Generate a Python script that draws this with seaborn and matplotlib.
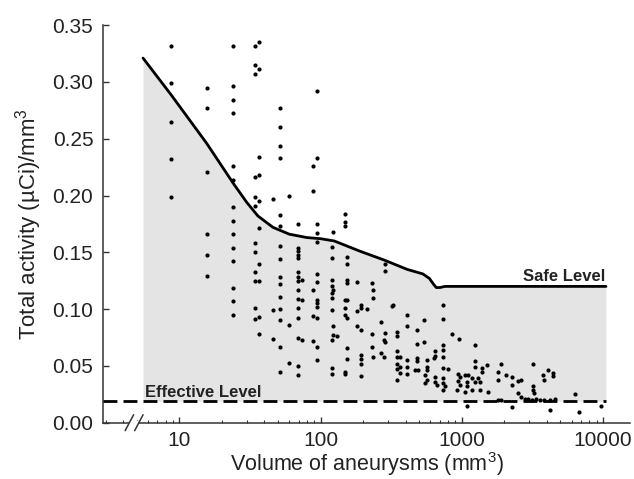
import numpy as np
import pandas as pd
import matplotlib
matplotlib.use("Agg")
import matplotlib.pyplot as plt
import seaborn as sns


# measured points, grouped by volume column (mm3) -> total activity (uCi/mm3)
col_volumes = [8.7, 15.6, 24.1, 34.3, 36.8, 46.3, 51.7, 60, 68.9, 73.5, 88, 94,
               120, 123, 130, 149, 155, 180, 192, 214, 230, 236, 270, 280, 285, 320, 328, 345, 364, 412,
               465, 478, 490, 543, 545, 568, 633, 650, 668, 740, 760, 803, 848, 920, 944, 962, 970,
               1050, 1080, 1110, 1180, 1240, 1310, 1340, 1380, 1510, 1540,
               1810, 1910, 2070, 2250, 2280, 2500, 2640, 2800, 2960, 3120, 3180, 3270, 3370, 3560,
               3740, 3850, 4060, 4180, 4410, 4560, 6320, 6760, 9700]
col_activity = [
    [0.332, 0.299, 0.265, 0.232, 0.199],
    [0.295, 0.277, 0.221, 0.166, 0.148, 0.129],
    [0.332, 0.296, 0.284, 0.273, 0.226, 0.214, 0.190, 0.178, 0.166, 0.154, 0.142, 0.119, 0.107, 0.095],
    [0.332, 0.315, 0.307, 0.216, 0.199, 0.191, 0.158, 0.150, 0.133, 0.125, 0.101, 0.091],
    [0.335, 0.311, 0.234, 0.218, 0.195, 0.171, 0.140, 0.125, 0.093, 0.078],
    [0.197, 0.099, 0.074],
    [0.277, 0.260, 0.244, 0.233, 0.183, 0.173, 0.156, 0.144, 0.128, 0.122, 0.111, 0.100, 0.090, 0.067, 0.045],
    [0.200, 0.086, 0.053],
    [0.175, 0.154, 0.151, 0.148, 0.145, 0.133, 0.128, 0.125, 0.117, 0.109, 0.101, 0.092, 0.075, 0.050, 0.042],
    [0.126, 0.108, 0.073],
    [0.226, 0.204, 0.117, 0.094, 0.072],
    [0.292, 0.233, 0.175, 0.167, 0.159, 0.131, 0.124, 0.108, 0.105, 0.102, 0.092, 0.067, 0.055],
    [0.155, 0.145, 0.126, 0.120, 0.114, 0.110, 0.099, 0.073, 0.048, 0.043],
    [0.168, 0.117, 0.085, 0.077],
    [0.076],
    [0.184, 0.177, 0.173, 0.108, 0.101, 0.095, 0.045, 0.043],
    [0.146, 0.140, 0.126, 0.123, 0.108, 0.092, 0.066, 0.056],
    [0.124, 0.098, 0.085],
    [0.104, 0.101, 0.082, 0.060, 0.056, 0.052, 0.041],
    [0.100],
    [0.123, 0.078, 0.067],
    [0.117, 0.110, 0.058],
    [0.089, 0.061],
    [0.073, 0.058],
    [0.140, 0.134, 0.079, 0.071],
    [0.103],
    [0.104],
    [0.080, 0.076, 0.063, 0.058, 0.052, 0.047, 0.038],
    [0.058, 0.049, 0.044],
    [0.095, 0.085, 0.055, 0.049, 0.043],
    [0.046],
    [0.082, 0.069, 0.057, 0.054],
    [0.046],
    [0.090, 0.071],
    [0.042, 0.035],
    [0.055, 0.049, 0.046, 0.038],
    [0.057],
    [0.063, 0.059, 0.040, 0.036],
    [0.033],
    [0.104, 0.091, 0.068, 0.064, 0.058, 0.048, 0.039, 0.035, 0.029],
    [0.032],
    [0.047],
    [0.078],
    [0.029],
    [0.043, 0.037],
    [0.074],
    [0.040, 0.033],
    [0.042, 0.027],
    [0.036, 0.032, 0.015],
    [0.042],
    [0.039, 0.029],
    [0.068, 0.054, 0.049, 0.036],
    [0.039],
    [0.036, 0.029],
    [0.048, 0.045],
    [0.051],
    [0.027],
    [0.045, 0.038, 0.020],
    [0.052, 0.020],
    [0.042],
    [0.033],
    [0.040, 0.014],
    [0.037, 0.026],
    [0.038, 0.023],
    [0.021],
    [0.021],
    [0.020],
    [0.052, 0.032, 0.029],
    [0.026],
    [0.021],
    [0.020],
    [0.042],
    [0.038, 0.020],
    [0.046],
    [0.020, 0.011],
    [0.044, 0.041],
    [0.021],
    [0.025],
    [0.009],
    [0.015],
]

# safe level curve
safe_vol = [5.53, 8.7, 15.6, 24, 30, 36, 46, 60, 80, 100, 125, 190, 285, 410, 530, 590, 630, 660, 700, 760, 10500]
safe_act = [0.321, 0.289, 0.246, 0.211, 0.194, 0.182, 0.172, 0.166, 0.163, 0.162, 0.160, 0.151, 0.143, 0.135,
            0.131, 0.127, 0.122, 0.119, 0.119, 0.120, 0.120]
effective_level = 0.019

x_lim = (2.88, 15500)
y_ticks = [0.00, 0.05, 0.10, 0.15, 0.20, 0.25, 0.30, 0.35]
x_ticks = [10, 100, 1000, 10000]
x_ticklabels = ["10", "100", "1000", "10000"]


df = pd.DataFrame({
    "volume": np.repeat(col_volumes, [len(a) for a in col_activity]),
    "activity": np.concatenate(col_activity),
})

sns.set_style("white")
plt.rcParams["font.family"] = ["Liberation Sans", "DejaVu Sans"]
plt.rcParams["mathtext.default"] = "regular"

fig = plt.figure(figsize=(6.34, 4.79), dpi=100)
ax = fig.add_axes([0.1625, 0.1175, 0.831, 0.830])
ax.set_xscale("log")

ax.fill_between(safe_vol, effective_level, safe_act, color="#e4e4e4", lw=0, zorder=0)
sns.lineplot(x=safe_vol, y=safe_act, sort=False, estimator=None, color="black", lw=2.0, ax=ax, zorder=3)
ax.plot([x_lim[0], safe_vol[-1]], [effective_level, effective_level], color="black", lw=2.0,
        linestyle=(0, (5, 2.2)), zorder=3, clip_on=False)
sns.scatterplot(data=df, x="volume", y="activity", color="black", s=9, marker="o", linewidth=0, ax=ax, zorder=4)

ax.text(safe_vol[0] * 1.03, effective_level + 0.0035, "Effective Level", fontsize=12, fontweight="bold",
        color="#222222", ha="left", va="baseline")
ax.text(safe_vol[-1] * 0.985, safe_act[-1] + 0.0045, "Safe Level", fontsize=12, fontweight="bold",
        color="#222222", ha="right", va="baseline")

ax.set_xlim(*x_lim)
ax.set_ylim(0, 0.35)
ax.set_yticks(y_ticks)
ax.set_yticklabels([f"{t:.2f}" for t in y_ticks])
ax.set_xticks(x_ticks)
ax.set_xticklabels(x_ticklabels)

ax.set_xlabel("Volume of aneurysms (mm$^3$)", fontsize=15.5, color="#222222", labelpad=0)
ax.set_ylabel("Total activity (\u00b5Ci)/mm$^3$", fontsize=16, color="#222222", labelpad=6)

for side in ["top", "right"]:
    ax.spines[side].set_visible(False)
for side in ["left", "bottom"]:
    ax.spines[side].set_color("#333333")
    ax.spines[side].set_linewidth(1.1)
ax.tick_params(axis="y", which="major", direction="in", length=4, width=1, color="#333333",
               labelsize=15, labelcolor="#222222", pad=7, left=True)
ax.tick_params(axis="x", which="major", direction="in", length=4, width=1, color="#333333",
               labelsize=15, labelcolor="#222222", pad=6, bottom=True)
ax.tick_params(axis="x", which="minor", direction="in", length=2.5, width=0.8, color="#333333", bottom=True)

# axis break on the x axis
ax.plot([0.054, 0.064], [0, 0], transform=ax.transAxes, color="white", lw=3, clip_on=False, zorder=5)
for xc in [0.050, 0.068]:
    ax.plot([xc - 0.008, xc + 0.008], [-0.02, 0.02], transform=ax.transAxes, color="#333333",
            lw=1.1, clip_on=False, zorder=6)

fig.savefig("out.png", dpi=100)
